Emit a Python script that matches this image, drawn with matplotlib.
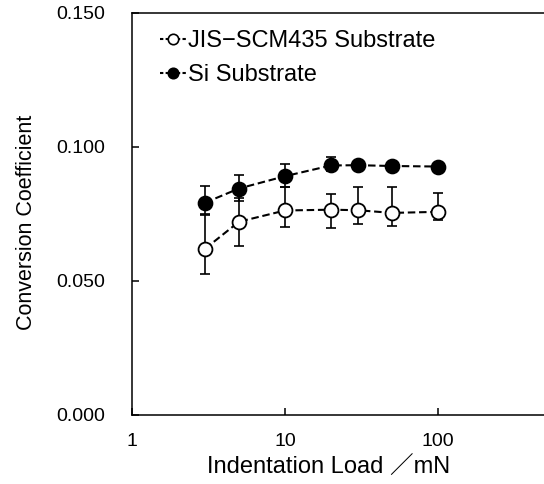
import numpy as np
import matplotlib
matplotlib.use('Agg')
import matplotlib.pyplot as plt
from matplotlib.lines import Line2D
from matplotlib.ticker import FixedLocator, FixedFormatter, NullLocator

plt.rcParams['font.family'] = ['Liberation Sans', 'Noto Sans CJK JP', 'DejaVu Sans']

# indentation loads (mN)
load = [3, 5, 10, 20, 30, 50, 100]

# JIS-SCM435 substrate: mean, lower and upper ends of error bars
jis_mean = [0.0620, 0.0721, 0.0763, 0.0766, 0.0764, 0.0754, 0.0758]
jis_low  = [0.0525, 0.0629, 0.0701, 0.0699, 0.0713, 0.0705, 0.0727]
jis_high = [0.0746, 0.0810, 0.0850, 0.0823, 0.0849, 0.0849, 0.0829]

# Si substrate
si_mean = [0.0792, 0.0845, 0.0891, 0.0931, 0.0932, 0.0929, 0.0927]
si_low  = [0.0751, 0.0800, 0.0850, 0.0910, 0.0925, 0.0920, 0.0920]
si_high = [0.0856, 0.0897, 0.0935, 0.0964, 0.0940, 0.0938, 0.0934]

labels = ['JIS\u2212SCM435 Substrate', 'Si Substrate']
faces = ['white', 'k']

fig = plt.figure(figsize=(5.44, 4.84), dpi=100)
ax = fig.add_axes([0.2426, 0.1426, 0.844, 0.8306])

def err(mean, lo, hi):
    m = np.asarray(mean)
    return [m - np.asarray(lo), np.asarray(hi) - m]

DASH = (0, (3.6, 1.8))
for mean, lo, hi, fc in [(jis_mean, jis_low, jis_high, faces[0]),
                         (si_mean, si_low, si_high, faces[1])]:
    ax.errorbar(load, mean, yerr=err(mean, lo, hi), fmt='none',
                ecolor='k', elinewidth=1.2, capsize=3.5, capthick=1.2, zorder=2)
    ax.plot(load, mean, ls=DASH, color='k', lw=1.5, marker='o', ms=10,
            mfc=fc, mec='k', mew=1.3, zorder=3)

ax.set_xscale('log')
ax.set_xlim(1, 1000)
ax.set_ylim(0, 0.15)
ax.xaxis.set_major_locator(FixedLocator([1, 10, 100]))
ax.xaxis.set_major_formatter(FixedFormatter(['1', '10', '100']))
ax.xaxis.set_minor_locator(NullLocator())
ax.set_yticks([0, 0.05, 0.1, 0.15])
ax.set_yticklabels(['0.000', '0.050', '0.100', '0.150'])
ax.tick_params(direction='in', length=5, width=1.1, labelsize=14)
ax.tick_params(axis='x', pad=13)
ax.tick_params(axis='y', pad=19)
ax.spines['right'].set_visible(False)
for s in ax.spines.values():
    s.set_linewidth(1.1)

ax.set_xlabel('Indentation Load \uff0fmN', fontsize=17)
ax.xaxis.set_label_coords(0.429, -0.105)
ax.set_ylabel('Conversion Coefficient', fontsize=15.5)
ax.yaxis.set_label_coords(-0.206, 0.48)

# legend proxies: shorter dashes so both sides of the marker show
handles = [Line2D([], [], ls=(0, (1.6, 1.1)), color='k', lw=1.5, marker='o', ms=7.5,
                  mfc=fc, mec='k', mew=1.2) for fc in faces]
ax.legend(handles, labels, loc='upper left', frameon=False, fontsize=17,
          handlelength=1.15, handletextpad=0.05, labelspacing=0.5,
          borderaxespad=0, borderpad=0, bbox_to_anchor=(0.060, 0.957))

fig.savefig('out.png', dpi=100)
